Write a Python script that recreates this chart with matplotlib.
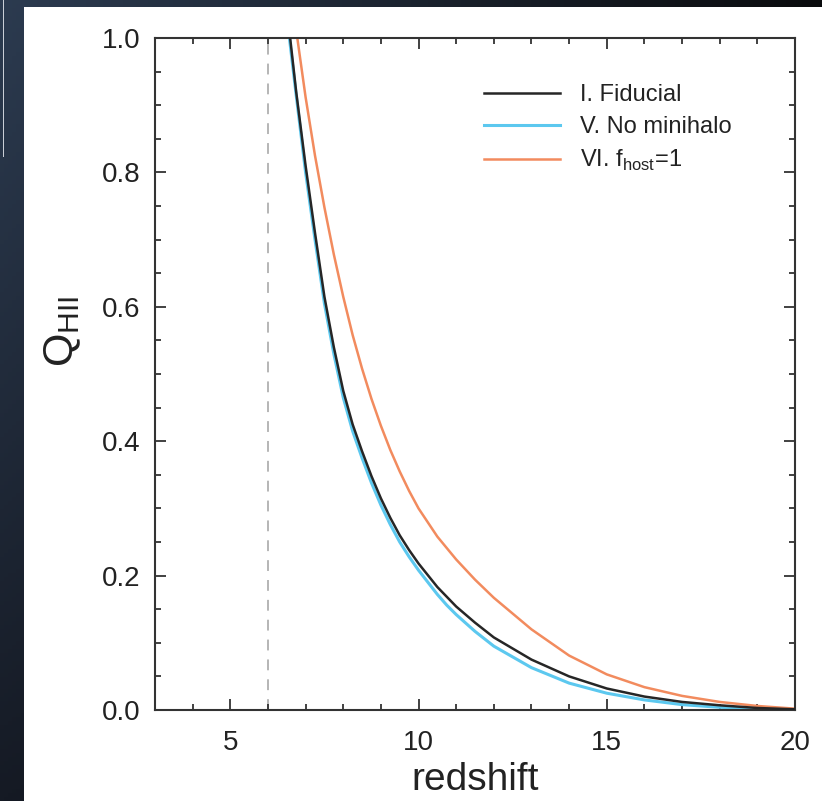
import numpy as np
import matplotlib
matplotlib.use("Agg")
import matplotlib.pyplot as plt
from matplotlib.patches import Rectangle
from matplotlib.ticker import MultipleLocator

plt.rcParams['font.family'] = ['Liberation Sans', 'DejaVu Sans']
plt.rcParams['mathtext.fontset'] = 'custom'
plt.rcParams['mathtext.rm'] = 'Liberation Sans'

# Ionized volume fraction Q_HII versus redshift for three models
z_fid = [6.50, 6.59, 6.75, 7.0, 7.25, 7.5, 7.75, 8.0, 8.25, 8.5, 8.75, 9.0, 9.25, 9.5, 9.75,
         10.0, 10.5, 11.0, 11.5, 12.0, 13.0, 14.0, 15.0, 16.0, 17.0, 18.0, 19.0, 20.0]
q_fid = [1.05, 1.00, 0.92, 0.81, 0.71, 0.615, 0.54, 0.475, 0.425, 0.385, 0.348, 0.315, 0.286,
         0.26, 0.238, 0.218, 0.183, 0.154, 0.13, 0.108, 0.075, 0.05, 0.032, 0.02, 0.012,
         0.007, 0.003, 0.001]

z_nomh = [6.48, 6.57, 6.75, 7.0, 7.25, 7.5, 7.75, 8.0, 8.25, 8.5, 8.75, 9.0, 9.25, 9.5, 9.75,
          10.0, 10.25, 10.5, 10.75, 11.0, 11.5, 12.0, 13.0, 14.0, 15.0, 16.0, 17.0, 18.0,
          19.0, 20.0]
q_nomh = [1.05, 1.00, 0.915, 0.80, 0.70, 0.605, 0.53, 0.465, 0.415, 0.375, 0.338, 0.305,
          0.276, 0.25, 0.228, 0.208, 0.19, 0.172, 0.156, 0.142, 0.117, 0.095, 0.063, 0.04,
          0.025, 0.015, 0.008, 0.004, 0.002, 0.001]

z_fhost = [6.70, 6.78, 7.0, 7.25, 7.5, 7.75, 8.0, 8.25, 8.5, 8.75, 9.0, 9.25, 9.5, 9.75,
           10.0, 10.5, 11.0, 11.5, 12.0, 13.0, 14.0, 15.0, 16.0, 17.0, 18.0, 19.0, 20.0]
q_fhost = [1.04, 1.00, 0.912, 0.825, 0.748, 0.678, 0.615, 0.558, 0.508, 0.463, 0.423, 0.387,
           0.355, 0.326, 0.30, 0.258, 0.224, 0.194, 0.167, 0.12, 0.081, 0.053, 0.034, 0.021,
           0.012, 0.006, 0.002]

labels = ['I. Fiducial', 'V. No minihalo', r'VI. f$_\mathregular{host}$=1']
colors = ['#262626', '#5cc8ef', '#f28b5e']

z_reion_end = 6.0
x_ticks = [5, 10, 15, 20]
y_ticks = [0.0, 0.2, 0.4, 0.6, 0.8, 1.0]

W, H = 822, 801
fig = plt.figure(figsize=(W / 100, H / 100), dpi=100)

# dark slide background with a soft diagonal gradient
bg = fig.add_axes([0, 0, 1, 1], zorder=0)
u = np.linspace(0, 1, 200)[None, :]
v = np.linspace(0, 1, 200)[:, None]
tl = np.array([0x2c, 0x3b, 0x50]) / 255
tr = np.array([0x0a, 0x0b, 0x0d]) / 255
bl = np.array([0x15, 0x1a, 0x24]) / 255
br = np.array([0x05, 0x05, 0x07]) / 255
img = (tl * ((1 - u) * (1 - v))[..., None] + tr * (u * (1 - v))[..., None]
       + bl * ((1 - u) * v)[..., None] + br * (u * v)[..., None])
bg.imshow(img, extent=[0, W, H, 0], aspect='auto')
bg.add_patch(Rectangle((2.5, 0), 1.5, 157, color='#c9ced6', lw=0))
bg.add_patch(Rectangle((24, 7), W - 24, H - 7, color='white', lw=0))
bg.set_xlim(0, W)
bg.set_ylim(H, 0)
bg.axis('off')

left, right, top, bottom = 155, 795, 38, 710
ax = fig.add_axes([left / W, 1 - bottom / H, (right - left) / W, (bottom - top) / H], zorder=1)
ax.set_facecolor('none')

ax.axvline(z_reion_end, color='#b0b0b0', lw=1.3, ls=(0, (6, 5)), zorder=1)
ax.plot(z_fid, q_fid, color=colors[0], lw=1.8, label=labels[0], zorder=3)
ax.plot(z_nomh, q_nomh, color=colors[1], lw=2.2, label=labels[1], zorder=2)
ax.plot(z_fhost, q_fhost, color=colors[2], lw=1.8, label=labels[2], zorder=2)

ax.set_xlim(3, 20)
ax.set_ylim(0, 1)
ax.set_xticks(x_ticks)
ax.set_yticks(y_ticks)
ax.set_yticklabels([f'{t:.1f}' for t in y_ticks])
ax.xaxis.set_minor_locator(MultipleLocator(1))
ax.yaxis.set_minor_locator(MultipleLocator(0.05))
ax.tick_params(which='both', direction='in', top=True, right=True, color='#333333',
               width=1.3)
ax.tick_params(which='major', length=8, labelsize=20, pad=10.5, labelcolor='#222222')
ax.tick_params(axis='x', which='major', pad=14.5)
ax.tick_params(which='minor', length=4)
for s in ax.spines.values():
    s.set_color('#333333')
    s.set_linewidth(1.5)

ax.set_xlabel('redshift', fontsize=28, color='#222222', labelpad=4)
ax.set_ylabel(r'Q$_\mathregular{HII}$', fontsize=31, color='#222222')
ax.yaxis.set_label_coords(-0.112, 0.5625)

leg = ax.legend(loc='upper left',
                bbox_to_anchor=((484 - left) / (right - left), 1 - (84 - top) / (bottom - top)),
                frameon=False, fontsize=17, handlelength=3.2, handletextpad=0.85,
                labelspacing=0.42, borderaxespad=0, borderpad=0)
for t in leg.get_texts():
    t.set_color('#222222')

fig.savefig('out.png', dpi=100)
